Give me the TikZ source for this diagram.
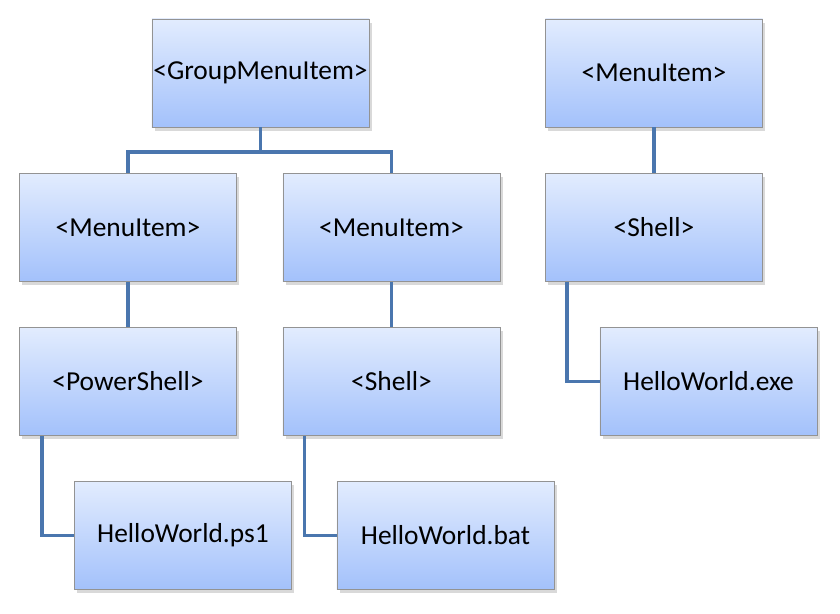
\documentclass[tikz,border=0pt]{standalone}
\usepackage{fontspec}
\setmainfont{Carlito}
\usepackage{tikz}
\usetikzlibrary{shadows}

\definecolor{boxtop}{HTML}{E2ECFE}
\definecolor{boxbot}{HTML}{A3C1FB}
\definecolor{linkblue}{HTML}{4A76AE}

\tikzset{
	item/.style={draw=gray!85,line width=0.6pt,top color=boxtop,bottom color=boxbot,
		minimum width=5.425cm,minimum height=2.7cm,inner sep=0pt,
		font=\fontsize{19.5}{23}\selectfont,
		drop shadow={shadow xshift=2pt,shadow yshift=-2.5pt,opacity=0.3,fill=gray}},
	link/.style={draw=linkblue,line width=2.6pt}
}

\begin{document}
\begin{tikzpicture}[x=0.025cm,y=-0.025cm]
		\useasboundingbox (0,0) rectangle (840,613);
		\node[item](grp)at(260.5,73) {<GroupMenuItem>};
		\node[item](mL)at(128,227.5) {<MenuItem>};
		\node[item](mM)at(391.5,227.5) {<MenuItem>};
		\node[item](mR)at(654,73) {<MenuItem>};
		\node[item](ps)at(128,381.5) {<PowerShell>};
		\node[item](shM)at(391.5,381.5) {<Shell>};
		\node[item](shR)at(654,227.5) {<Shell>};
		\node[item](ps1)at(183,535.5) {HelloWorld.ps1};
		\node[item](bat)at(445.5,535.5) {HelloWorld.bat};
		\node[item](exe)at(708.5,381.5) {HelloWorld.exe};
		
		\draw[link](grp.south) -- ++(0,24.5) -| (mL.north);
		\draw[link](grp.south) -- ++(0,24.5) -| (mM.north);
		\draw[link](mL) -- (ps);
		\draw[link](mM) -- (shM);
		\draw[link](mR) -- (shR);
		\draw[link]([xshift=0.575cm]ps.south west) |- (ps1.west);
		\draw[link]([xshift=0.55cm]shM.south west) |- (bat.west);
		\draw[link]([xshift=0.55cm]shR.south west) |- (exe.west);
	\end{tikzpicture}
\end{document}
